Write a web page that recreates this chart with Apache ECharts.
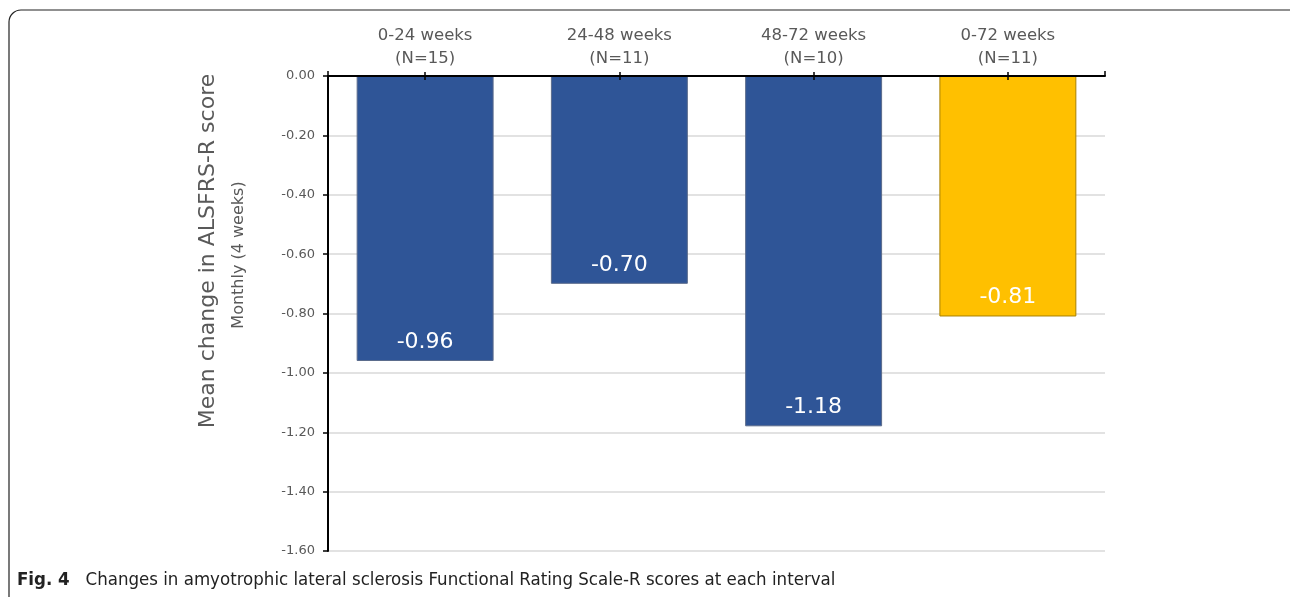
<!DOCTYPE html>
<html>
<head>
<meta charset="utf-8">
<script src="https://cdn.jsdelivr.net/npm/echarts@6/dist/echarts.min.js"></script>
<style>
  html, body { margin: 0; padding: 0; background: #fff; }
  #chart { width: 1290px; height: 597px; }
</style>
</head>
<body>
<div id="chart"></div>
<script>
// data
const categories = ['0-24 weeks\n(N=15)', '24-48 weeks\n(N=11)', '48-72 weeks\n(N=10)', '0-72 weeks\n(N=11)']
const meanChange = [-0.96, -0.70, -1.18, -0.81]
const barColors = ['#2f5597', '#2f5597', '#2f5597', '#ffc000']
const barBorders = ['#5b6c8c', '#5b6c8c', '#5b6c8c', '#a88100']

const chart = echarts.init(document.getElementById('chart'))

chart.setOption({
  animation: false,
  textStyle: { fontFamily: 'DejaVu Sans' },
  title: {
    text: '{b|Fig. 4}   Changes in amyotrophic lateral sclerosis Functional Rating Scale-R scores at each interval',
    left: 12,
    top: 566,
    textStyle: {
      fontFamily: 'Liberation Sans Narrow, DejaVu Sans Condensed',
      fontSize: 18.5,
      fontWeight: 'normal',
      color: '#222',
      rich: {
        b: { fontFamily: 'Liberation Sans Narrow, DejaVu Sans Condensed', fontSize: 18.5, fontWeight: 'bold', color: '#222' }
      }
    }
  },
  graphic: [
    {
      type: 'rect',
      shape: { x: 9, y: 10, width: 1320, height: 620, r: 12 },
      style: { fill: 'none', stroke: '#222', lineWidth: 1.2 },
      silent: true
    },
    {
      type: 'text',
      x: 208,
      y: 251,
      rotation: Math.PI / 2,
      style: {
        text: 'Mean change in ALSFRS-R score',
        fontFamily: 'DejaVu Sans',
        fontSize: 22,
        fill: '#595959',
        align: 'center',
        verticalAlign: 'middle'
      }
    },
    {
      type: 'text',
      x: 239,
      y: 255,
      rotation: Math.PI / 2,
      style: {
        text: 'Monthly (4 weeks)',
        fontFamily: 'DejaVu Sans',
        fontSize: 16,
        fill: '#595959',
        align: 'center',
        verticalAlign: 'middle'
      }
    }
  ],
  grid: { left: 328, right: 185, top: 76, bottom: 46, containLabel: false },
  xAxis: [
    {
      type: 'category',
      position: 'top',
      data: categories,
      z: 5,
      axisLine: { lineStyle: { color: '#000', width: 2 } },
      axisTick: { show: true, alignWithLabel: true, length: 4, lineStyle: { color: '#000', width: 1.5 } },
      axisLabel: { color: '#595959', fontSize: 16.5, lineHeight: 23, margin: 6 }
    },
    {
      // second pass of ticks so they cross the line like the original
      type: 'category',
      position: 'top',
      data: categories,
      z: 5,
      axisLine: { show: false },
      axisTick: { show: true, alignWithLabel: true, inside: true, length: 4, lineStyle: { color: '#000', width: 1.5 } },
      axisLabel: { show: false }
    },
    {
      // boundary ticks, only the ends (gives the cap at the right end)
      type: 'category',
      position: 'top',
      data: categories,
      z: 5,
      axisLine: { show: false },
      axisTick: { show: true, length: 5, interval: 3, lineStyle: { color: '#000', width: 1.5 } },
      axisLabel: { show: false }
    }
  ],
  yAxis: {
    type: 'value',
    min: -1.6,
    max: 0,
    interval: 0.2,
    axisLine: { show: true, lineStyle: { color: '#000', width: 2 } },
    axisTick: { show: true, length: 5, lineStyle: { color: '#000', width: 1.5 } },
    axisLabel: {
      color: '#595959',
      fontSize: 13,
      margin: 13,
      formatter: v => v.toFixed(2)
    },
    splitLine: { lineStyle: { color: '#d9d9d9', width: 1.5 } }
  },
  series: [
    {
      type: 'bar',
      barWidth: '70.5%',
      data: meanChange.map((v, i) => ({
        value: v,
        itemStyle: { color: barColors[i], borderColor: barBorders[i], borderWidth: 1 }
      })),
      label: {
        show: true,
        position: 'insideBottom',
        distance: 8,
        color: '#fff',
        fontSize: 22,
        fontFamily: 'DejaVu Sans',
        formatter: p => p.value.toFixed(2)
      }
    }
  ]
})
</script>
</body>
</html>
